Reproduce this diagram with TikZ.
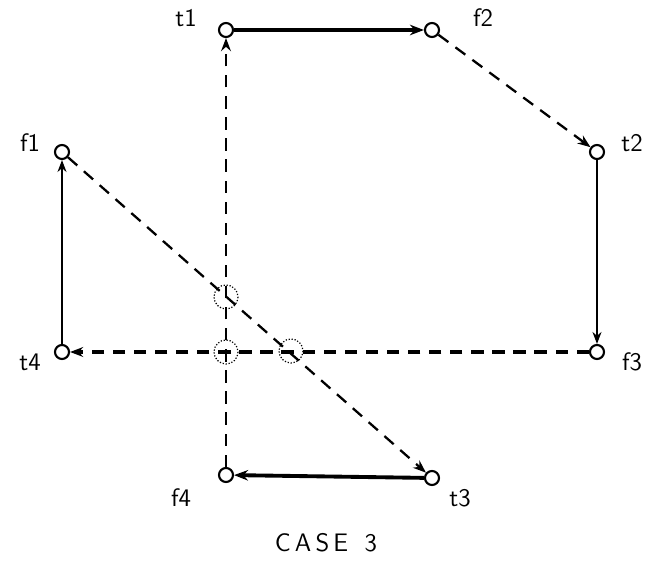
\documentclass[tikz,border=0pt]{standalone}
\usetikzlibrary{arrows.meta}
\begin{document}
\begin{tikzpicture}[
  x=0.02cm, y=-0.02cm,
  font=\sffamily\Large,
  pt/.style={circle,draw,line width=1.2pt,inner sep=0pt,minimum size=0.28cm},
  lbl/.style={font=\sffamily\Large},
  hvy/.style={-{Stealth[length=2.8mm]},line width=2.2pt},
  lgt/.style={-{Stealth[length=2.4mm]},line width=0.8pt},
  dsh/.style={-{Stealth[length=2.6mm]},line width=1.3pt,dash pattern=on 7pt off 5pt},
  hop/.style={densely dotted,line width=0.7pt}
]
\useasboundingbox (0,0) rectangle (667,567);

% ---- terminals ----
\node[pt] (t1) at (226,30) {};
\node[pt] (f2) at (432,30) {};
\node[pt] (f1) at (62,152) {};
\node[pt] (t2) at (597,152) {};
\node[pt] (t4) at (62,352) {};
\node[pt] (f3) at (597,352) {};
\node[pt] (f4) at (226,475) {};
\node[pt] (t3) at (432,478) {};

% ---- labels ----
\node[lbl] (lt1) at (186,18) {t1};
\node[lbl] (lf2) at (483,18) {f2};
\node[lbl] (lf1) at (30,143) {f1};
\node[lbl] (lt2) at (632,143) {t2};
\node[lbl] (lt4) at (30,362) {t4};
\node[lbl] (lf3) at (632,362) {f3};
\node[lbl] (lf4) at (181,498) {f4};
\node[lbl] (lt3) at (460,498) {t3};
\node[lbl] (cap) at (326,543) {C\,A\,S\,E\ \ 3};

% ---- crossings ----
\foreach \x/\y in {226/297,226/352,291/351} {
  \draw[hop] (\x,\y) circle (12);
}

% ---- connections ----
\draw[hvy] (t1) -- (f2);
\draw[dsh] (f2) -- (t2);
\draw[lgt] (t2) -- (f3);
\draw[dsh,line width=1.8pt] (f3) -- (t4);
\draw[lgt] (t4) -- (f1);
\draw[dsh] (f1) -- (t3);
\draw[hvy] (t3) -- (f4);
\draw[dsh] (f4) -- (t1);

\end{tikzpicture}
\end{document}
